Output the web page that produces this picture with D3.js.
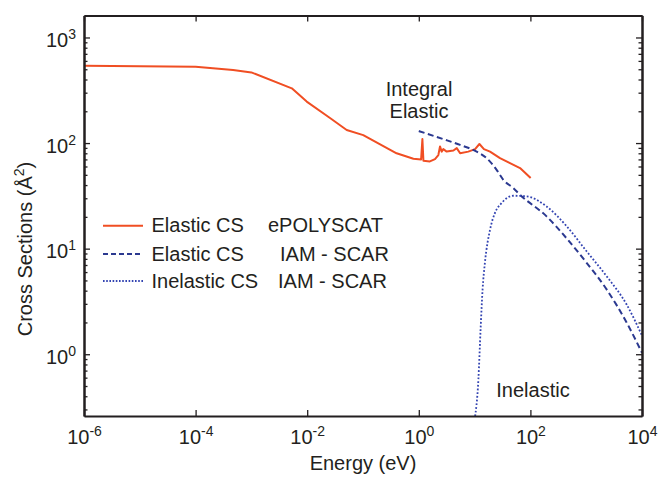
<!DOCTYPE html>
<html>
<head>
<meta charset="utf-8">
<script src="https://cdn.jsdelivr.net/npm/d3@7"></script>
<style>
  body { margin: 0; background: #fff; }
  text { font-family: "Liberation Sans", Arial, sans-serif; fill: #231f20; }
</style>
</head>
<body>
<svg id="chart" width="659" height="477"></svg>
<script>
// energies in eV, cross sections in A^2
const polyE = [1e-6, 1e-4, 4.7e-4, 1e-3, 5.3e-3, 9.8e-3, 0.026, 0.051, 0.101, 0.40, 0.80,
  1.10, 1.16, 1.21, 1.58, 1.95, 2.24, 2.40, 2.57, 2.75, 3.16, 4.17, 4.79, 5.50, 7.71,
  10.2, 12.2, 14.7, 18.9, 28.5, 43.1, 65.2, 101];
const polyCS = [540, 527, 491, 467, 330, 247, 172, 133, 119, 80, 71,
  70, 109, 68, 67, 70.5, 77, 93, 83, 87.6, 83, 85, 89.5, 80, 83,
  87.6, 98, 87.6, 83, 72, 64.6, 58, 46.6];

const iamElE = [1.0, 2.75, 5.5, 10.9, 16.4, 24.8, 32.7, 49.4, 65.2, 195, 447, 1016, 2323, 5297, 10000];
const iamElCS = [130, 109, 96, 83, 72, 55.8, 44.9, 37.5, 32.4, 20.2, 12.5, 7.35, 4.11, 2.0, 1.03];

const iamInE = [10.0, 11.7, 12.8, 13.9, 15.3, 18.9, 23.2, 30.5, 49.4, 85.7, 195, 447, 1016, 2323, 5297, 10000];
const iamInCS = [0.24, 0.58, 1.72, 4.1, 7.35, 15.1, 21.8, 27, 31.7, 31.3, 25.1, 16.3, 9.44, 5.48, 2.96, 1.5];

const xTicks = [1e-6, 1e-4, 1e-2, 1, 1e2, 1e4];
const xTickExp = ["-6", "-4", "-2", "0", "2", "4"];
const yTicks = [1, 10, 100, 1000];
const yTickExp = ["0", "1", "2", "3"];

const legendNames = ["Elastic CS", "Elastic CS", "Inelastic CS"];
const legendSources = ["ePOLYSCAT", "IAM - SCAR", "IAM - SCAR"];

const ink = "#231f20";
const orange = "#f04e23";
const navy = "#2b3990";
const blue = "#3344b2";

const svg = d3.select("#chart");
const pLeft = 84, pRight = 642, pTop = 15.5, pBottom = 416;

const x = d3.scaleLog().domain([1e-6, 1e4]).range([pLeft, pRight]);
const y = d3.scaleLog().domain([0.26, 1615]).range([pBottom, pTop]);

const yMinor = y.ticks().filter(v => !yTicks.includes(v));

svg.append("clipPath").attr("id", "plot")
  .append("rect").attr("x", pLeft).attr("y", pTop)
  .attr("width", pRight - pLeft).attr("height", pBottom - pTop);

function styleAxis(g) {
  g.select(".domain").attr("stroke", ink).attr("stroke-width", 2);
  g.selectAll(".tick line").attr("stroke", ink).attr("stroke-width", 1.3);
  g.attr("font-family", null).attr("font-size", null);
}

// curves
const plot = svg.append("g").attr("clip-path", "url(#plot)");
const line = d3.line().x(d => x(d[0])).y(d => y(d[1]));
const smooth = d3.line().x(d => x(d[0])).y(d => y(d[1])).curve(d3.curveMonotoneX);

plot.append("path")
  .datum(d3.zip(polyE, polyCS))
  .attr("d", line)
  .attr("fill", "none").attr("stroke", orange).attr("stroke-width", 2)
  .attr("stroke-linejoin", "round");

plot.append("path")
  .datum(d3.zip(iamElE, iamElCS))
  .attr("d", smooth)
  .attr("fill", "none").attr("stroke", navy).attr("stroke-width", 2)
  .attr("stroke-dasharray", "6,3.5");

plot.append("path")
  .datum(d3.zip(iamInE, iamInCS))
  .attr("d", smooth)
  .attr("fill", "none").attr("stroke", blue).attr("stroke-width", 1.8)
  .attr("stroke-dasharray", "1.8,1.9");

// bottom axis
svg.append("g")
  .attr("transform", `translate(0,${pBottom})`)
  .call(d3.axisBottom(x).tickValues(xTicks).tickSizeInner(-6).tickSizeOuter(0))
  .call(styleAxis)
  .call(g => g.selectAll(".tick text").each(function (d, i) {
    const t = d3.select(this).text(null)
      .attr("y", 28).attr("dy", null).attr("fill", ink)
      .style("font-size", "20px").attr("text-anchor", "middle");
    t.append("tspan").text("10");
    t.append("tspan").attr("dy", -8).style("font-size", "14px").text(xTickExp[i]);
  }));

// top axis
svg.append("g")
  .attr("transform", `translate(0,${pTop})`)
  .call(d3.axisTop(x).tickValues(xTicks).tickSizeInner(-6).tickSizeOuter(0).tickFormat(""))
  .call(styleAxis);

// left axis
svg.append("g")
  .attr("transform", `translate(${pLeft},0)`)
  .call(d3.axisLeft(y).tickValues(yTicks).tickSizeInner(-6).tickSizeOuter(0).tickPadding(8))
  .call(styleAxis)
  .call(g => g.selectAll(".tick text").each(function (d, i) {
    const t = d3.select(this).text(null).attr("fill", ink)
      .attr("dy", 9).style("font-size", "20px").attr("text-anchor", "end");
    t.append("tspan").text("10");
    t.append("tspan").attr("dy", -8).style("font-size", "14px").text(yTickExp[i]);
  }));
svg.append("g")
  .attr("transform", `translate(${pLeft},0)`)
  .call(d3.axisLeft(y).tickValues(yMinor).tickSizeInner(-3.5).tickSizeOuter(0).tickFormat(""))
  .call(styleAxis);

// right axis
svg.append("g")
  .attr("transform", `translate(${pRight},0)`)
  .call(d3.axisRight(y).tickValues(yTicks).tickSizeInner(-6).tickSizeOuter(0).tickFormat(""))
  .call(styleAxis);
svg.append("g")
  .attr("transform", `translate(${pRight},0)`)
  .call(d3.axisRight(y).tickValues(yMinor).tickSizeInner(-3.5).tickSizeOuter(0).tickFormat(""))
  .call(styleAxis);

// axis titles
svg.append("text")
  .attr("x", (pLeft + pRight) / 2).attr("y", 470)
  .attr("text-anchor", "middle").style("font-size", "20px")
  .text("Energy (eV)");

const yTitle = svg.append("text")
  .attr("transform", "translate(32,249) rotate(-90)")
  .attr("text-anchor", "middle").style("font-size", "20px");
yTitle.append("tspan").text("Cross Sections (Å");
yTitle.append("tspan").attr("dy", -8).style("font-size", "14px").text("2");
yTitle.append("tspan").attr("dy", 8).text(")");

// annotations
svg.append("text").attr("x", 419).attr("y", 95.5)
  .attr("text-anchor", "middle").style("font-size", "20px").text("Integral");
svg.append("text").attr("x", 419).attr("y", 117.5)
  .attr("text-anchor", "middle").style("font-size", "20px").text("Elastic");
svg.append("text").attr("x", 533).attr("y", 397)
  .attr("text-anchor", "middle").style("font-size", "20px").text("Inelastic");

// legend
const legendY = [225.7, 254, 281];
const srcX = [268, 280, 278];
const legendStroke = [
  { color: orange, width: 2, dash: null },
  { color: navy, width: 2, dash: "5,3" },
  { color: blue, width: 1.8, dash: "1.6,1.6" }
];
const legend = svg.append("g");
legendNames.forEach((name, i) => {
  legend.append("line")
    .attr("x1", 103).attr("x2", 143)
    .attr("y1", legendY[i]).attr("y2", legendY[i])
    .attr("stroke", legendStroke[i].color)
    .attr("stroke-width", legendStroke[i].width)
    .attr("stroke-dasharray", legendStroke[i].dash);
  legend.append("text").attr("x", 151.5).attr("y", legendY[i] + 6.5)
    .style("font-size", "20px").text(name);
  legend.append("text").attr("x", srcX[i]).attr("y", legendY[i] + 6.5)
    .style("font-size", "20px").text(legendSources[i]);
});
</script>
</body>
</html>
